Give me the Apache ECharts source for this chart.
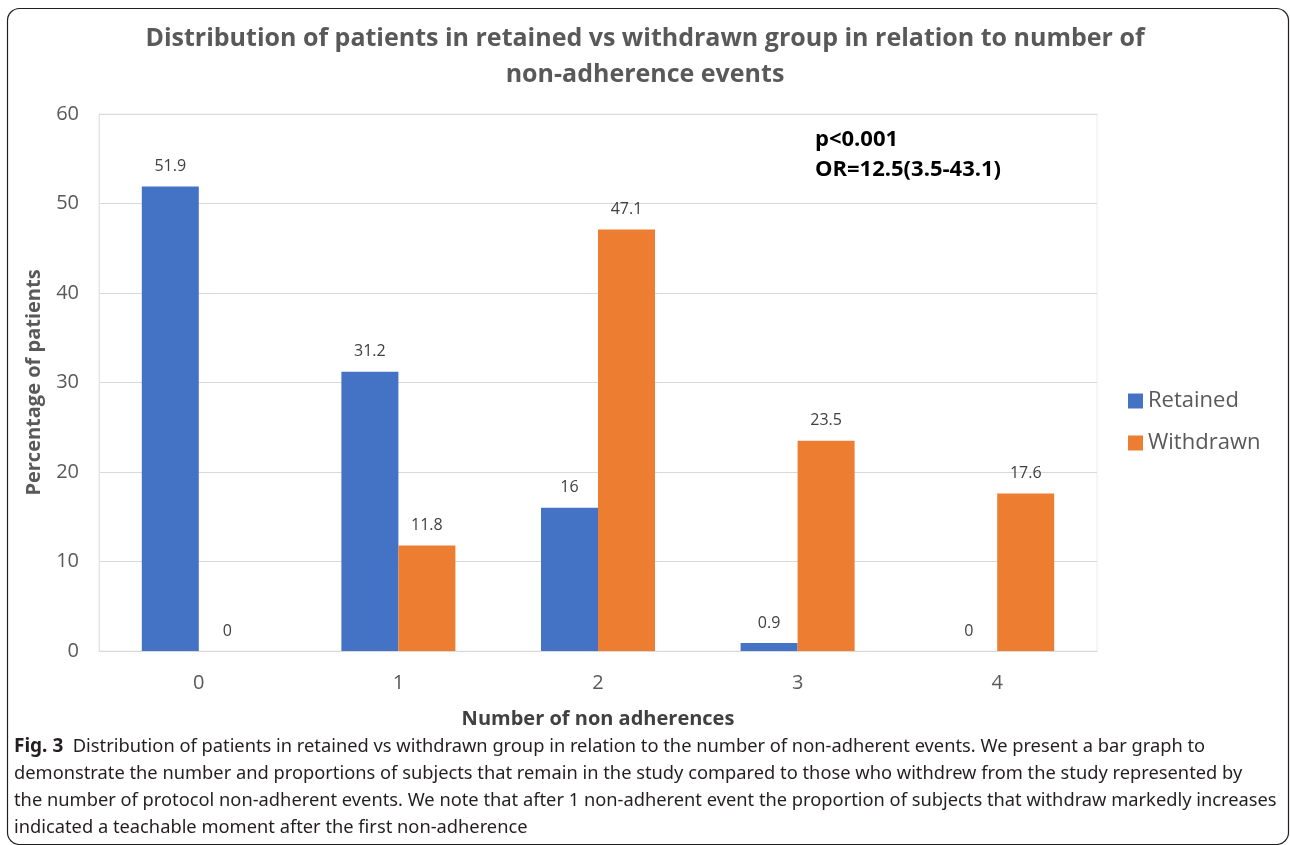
<!DOCTYPE html>
<html>
<head>
<meta charset="utf-8">
<script src="https://cdn.jsdelivr.net/npm/echarts@6/dist/echarts.min.js"></script>
<style>
  html, body { margin: 0; padding: 0; background: #fff; }
  #main { width: 1290px; height: 845px; }
</style>
</head>
<body>
<div id="main"></div>
<script>
// data
var categories = ['0', '1', '2', '3', '4'];
var retained = [51.9, 31.2, 16, 0.9, 0];
var withdrawn = [0, 11.8, 47.1, 23.5, 17.6];
var seriesNames = ['Retained', 'Withdrawn'];
var statLines = ['p<0.001', 'OR=12.5(3.5-43.1)'];
var captionLines = [
  'Distribution of patients in retained vs withdrawn group in relation to the number of non-adherent events. We present a bar graph to',
  'demonstrate the number and proportions of subjects that remain in the study compared to those who withdrew from the study represented by',
  'the number of protocol non-adherent events. We note that after 1 non-adherent event the proportion of subjects that withdraw markedly increases',
  'indicated a teachable moment after the first non-adherence'
];

var chart = echarts.init(document.getElementById('main'));

var labelStyle = {
  show: true,
  position: 'top',
  distance: 12,
  color: '#404040',
  fontSize: 16,
  fontFamily: 'Open Sans'
};

var option = {
  backgroundColor: '#fff',
  animation: false,
  title: {
    text: 'Distribution of patients in retained vs withdrawn group in relation to number of\nnon-adherence events',
    left: 'center',
    top: 16,
    textStyle: {
      color: '#595959',
      fontSize: 25,
      fontWeight: 'bold',
      fontFamily: 'Open Sans',
      lineHeight: 36
    }
  },
  legend: {
    orient: 'vertical',
    left: 1123,
    top: 385,
    itemWidth: 15,
    itemHeight: 15,
    itemGap: 20,
    icon: 'rect',
    data: seriesNames,
    textStyle: { color: '#595959', fontSize: 22, fontFamily: 'Open Sans' }
  },
  grid: {
    left: 99,
    right: 193,
    top: 114,
    bottom: 194,
    show: true,
    borderColor: '#ececec',
    borderWidth: 1
  },
  xAxis: {
    type: 'category',
    data: categories,
    name: 'Number of non adherences',
    nameLocation: 'middle',
    nameGap: 58,
    nameTextStyle: { color: '#404040', fontSize: 20, fontWeight: 'bold', fontFamily: 'Open Sans' },
    axisLine: { lineStyle: { color: '#d9d9d9' } },
    axisTick: { show: false },
    axisLabel: { color: '#595959', fontSize: 20, margin: 22, fontFamily: 'Open Sans' }
  },
  yAxis: {
    type: 'value',
    min: 0,
    max: 60,
    interval: 10,
    name: 'Percentage of patients',
    nameLocation: 'middle',
    nameGap: 55,
    nameTextStyle: { color: '#595959', fontSize: 20, fontWeight: 'bold', fontFamily: 'Open Sans' },
    axisLine: { show: true, lineStyle: { color: '#dbe3f3' } },
    axisLabel: { color: '#595959', fontSize: 20, margin: 20, fontFamily: 'Open Sans' },
    splitLine: { lineStyle: { color: '#d9d9d9' } }
  },
  series: [
    {
      name: seriesNames[0],
      type: 'bar',
      data: retained,
      barWidth: 57,
      barGap: '0%',
      itemStyle: { color: '#4472c4' },
      label: labelStyle
    },
    {
      name: seriesNames[1],
      type: 'bar',
      data: withdrawn,
      barWidth: 57,
      barGap: '0%',
      itemStyle: { color: '#ed7d31' },
      label: labelStyle
    }
  ],
  graphic: [
    {
      type: 'rect',
      left: 5,
      top: 6,
      shape: { width: 1281, height: 836, r: 12 },
      style: { fill: 'none', stroke: '#231f20', lineWidth: 1.2 },
      silent: true
    },
    {
      type: 'text',
      left: 815,
      top: 125,
      style: {
        text: statLines.join('\n'),
        fill: '#000',
        font: 'bold 22px "Open Sans"',
        lineHeight: 30
      }
    },
    {
      type: 'text',
      left: 14,
      top: 733,
      style: {
        text: '{b|Fig. 3}  ' + captionLines.join('\n'),
        rich: {
          b: { font: 'bold 19px "Noto Sans"', fill: '#231f20' }
        },
        fill: '#231f20',
        font: '18.3px "Noto Sans"',
        lineHeight: 27
      }
    }
  ]
};

chart.setOption(option);
</script>
</body>
</html>
